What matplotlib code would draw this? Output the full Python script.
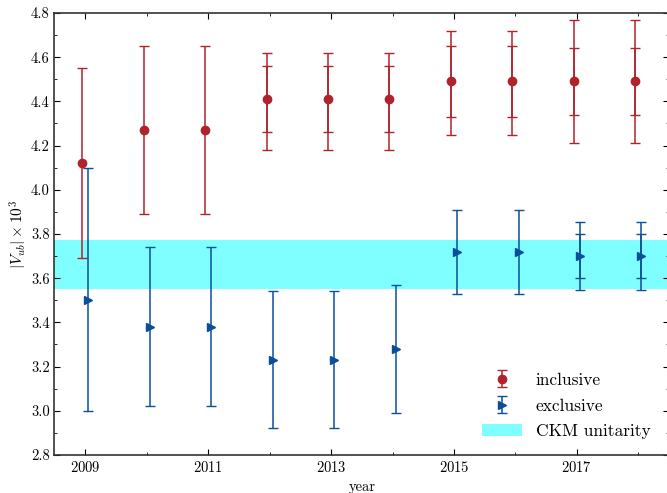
import numpy as np
import matplotlib
matplotlib.use("Agg")
import matplotlib.pyplot as plt
from matplotlib.ticker import MultipleLocator, FixedLocator, FormatStrFormatter

plt.rcParams['font.family'] = 'serif'
plt.rcParams['font.serif'] = ['cmr10']
plt.rcParams['mathtext.fontset'] = 'cm'
plt.rcParams['axes.formatter.use_mathtext'] = True

years = np.arange(2009, 2019)
major_years = [2009, 2011, 2013, 2015, 2017]

# inclusive determinations
incl = np.array([4.12, 4.27, 4.27, 4.41, 4.41, 4.41, 4.49, 4.49, 4.49, 4.49])
incl_lo = np.array([3.69, 3.89, 3.89, 4.18, 4.18, 4.18, 4.25, 4.25, 4.21, 4.21])
incl_hi = np.array([4.55, 4.65, 4.65, 4.62, 4.62, 4.62, 4.72, 4.72, 4.77, 4.77])
incl_in_lo = np.array([np.nan, np.nan, np.nan, 4.26, 4.26, 4.26, 4.33, 4.33, 4.34, 4.34])
incl_in_hi = np.array([np.nan, np.nan, np.nan, 4.56, 4.56, 4.56, 4.65, 4.65, 4.64, 4.64])

# exclusive determinations
excl = np.array([3.50, 3.38, 3.38, 3.23, 3.23, 3.28, 3.72, 3.72, 3.70, 3.70])
excl_lo = np.array([3.00, 3.02, 3.02, 2.92, 2.92, 2.99, 3.53, 3.53, 3.545, 3.545])
excl_hi = np.array([4.10, 3.74, 3.74, 3.54, 3.54, 3.57, 3.91, 3.91, 3.856, 3.856])
excl_in_lo = np.array([np.nan] * 8 + [3.60, 3.60])
excl_in_hi = np.array([np.nan] * 8 + [3.80, 3.80])

# CKM unitarity band
ckm_lo, ckm_hi = 3.55, 3.775

red = '#b0232b'
blue = '#0b4f9c'
shift = 0.05

fig = plt.figure(figsize=(6.67, 4.93), dpi=100)
ax = fig.add_axes([0.0817, 0.0771, 0.9215, 0.8966])

ax.axhspan(ckm_lo, ckm_hi, color='cyan', alpha=0.5, lw=0, label='CKM unitarity')

ax.errorbar(years - shift, incl, yerr=[incl - incl_lo, incl_hi - incl],
            fmt='o', color=red, ms=6, elinewidth=1.1, capsize=3.5, capthick=1,
            label='inclusive')
m = ~np.isnan(incl_in_lo)
ax.errorbar(years[m] - shift, incl[m], yerr=[incl[m] - incl_in_lo[m], incl_in_hi[m] - incl[m]],
            fmt='none', ecolor=red, elinewidth=1.1, capsize=3.5, capthick=1)

ax.errorbar(years + shift, excl, yerr=[excl - excl_lo, excl_hi - excl],
            fmt='>', color=blue, ms=6, elinewidth=1.1, capsize=3.5, capthick=1,
            label='exclusive')
m = ~np.isnan(excl_in_lo)
ax.errorbar(years[m] + shift, excl[m], yerr=[excl[m] - excl_in_lo[m], excl_in_hi[m] - excl[m]],
            fmt='none', ecolor=blue, elinewidth=1.1, capsize=3.5, capthick=1)

ax.set_xlim(2008.5, 2018.5)
ax.set_ylim(2.8, 4.8)
ax.xaxis.set_major_locator(FixedLocator(major_years))
ax.xaxis.set_minor_locator(MultipleLocator(1))
ax.yaxis.set_major_locator(MultipleLocator(0.2))
ax.yaxis.set_minor_locator(MultipleLocator(0.1))
ax.yaxis.set_major_formatter(FormatStrFormatter('%.1f'))
ax.tick_params(which='both', direction='in', top=True, right=True, labelsize=10.5)
ax.tick_params(which='major', length=4.5)
ax.tick_params(which='minor', length=2.5)
for s in ax.spines.values():
    s.set_linewidth(1.2)
    s.set_color('#333333')

ax.set_xlabel('year', fontsize=10.5)
ax.set_ylabel(r'$|V_{ub}|\times 10^3$', fontsize=11, labelpad=1)

handles, labels = ax.get_legend_handles_labels()
order = [labels.index('inclusive'), labels.index('exclusive'), labels.index('CKM unitarity')]
ax.legend([handles[i] for i in order], [labels[i] for i in order],
          loc='lower right', frameon=False, fontsize=12.5, labelspacing=0.6,
          handlelength=2.3, bbox_to_anchor=(0.995, 0.0))

fig.savefig('out.png', dpi=100)
